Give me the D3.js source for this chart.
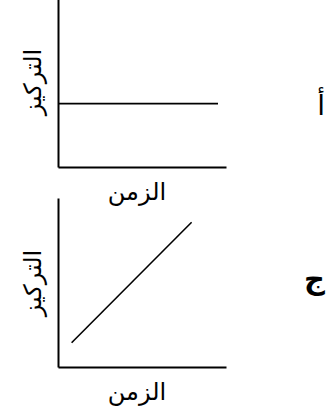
<!DOCTYPE html>
<html>
<head>
<meta charset="utf-8">
<script src="https://cdn.jsdelivr.net/npm/d3@7"></script>
<style>
  html, body { margin: 0; padding: 0; background: #fff; }
  svg { display: block; }
  text { font-family: "DejaVu Sans", "Noto Sans", sans-serif; fill: #000; }
</style>
</head>
<body>
<div id="chart"></div>
<script>
// --- data ---
const xLabel = "الزمن";
const yLabel = "التركيز";
const panelLetters = ["أ", "ج"];
// panel أ : constant concentration over time
const timeA = [0, 10];
const concA = [3, 3];
// panel ج : concentration rising linearly with time
const timeC = [0.85, 8.35];
const concC = [1.15, 6.85];

const width = 330;
const height = 409;

const svg = d3.select("#chart").append("svg")
  .attr("width", width)
  .attr("height", height);

const panels = [
  { top: -2, bottom: 167, t: timeA, c: concA, letter: panelLetters[0], bold: false, yMid: 82, letterY: 115 },
  { top: 198, bottom: 367, t: timeC, c: concC, letter: panelLetters[1], bold: true, yMid: 283, letterY: 289 }
];

panels.forEach(p => {
  const x = d3.scaleLinear().domain([0, 10.5]).range([58, 226]);
  const y = d3.scaleLinear().domain([0, 8]).range([p.bottom, p.top]);

  const g = svg.append("g");

  // axes: only the bare lines, no ticks
  g.append("g")
    .attr("transform", `translate(0,${p.bottom})`)
    .call(d3.axisBottom(x).ticks(0).tickSizeOuter(0))
    .call(s => s.select(".domain").attr("stroke-width", 2));
  g.append("g")
    .attr("transform", `translate(${x(0)},0)`)
    .call(d3.axisLeft(y).ticks(0).tickSizeOuter(0))
    .call(s => s.select(".domain").attr("stroke-width", 2));

  const pts = p.t.map((t, i) => [t, p.c[i]]);
  g.append("path")
    .attr("d", d3.line().x(d => x(d[0])).y(d => y(d[1]))(pts))
    .attr("fill", "none")
    .attr("stroke", "#000")
    .attr("stroke-width", 1.6);

  // axis titles
  g.append("text")
    .attr("x", 137)
    .attr("y", p.bottom + 33)
    .attr("text-anchor", "middle")
    .attr("font-size", 24)
    .text(xLabel);

  g.append("text")
    .attr("transform", `translate(41,${p.yMid}) rotate(-90)`)
    .attr("text-anchor", "middle")
    .attr("font-size", 24)
    .text(yLabel);

  // panel letter
  g.append("text")
    .attr("x", 325)
    .attr("y", p.letterY)
    .attr("text-anchor", "end")
    .attr("font-size", p.bold ? 29 : 28)
    .attr("font-weight", p.bold ? "bold" : "normal")
    .text(p.letter);
});
</script>
</body>
</html>
